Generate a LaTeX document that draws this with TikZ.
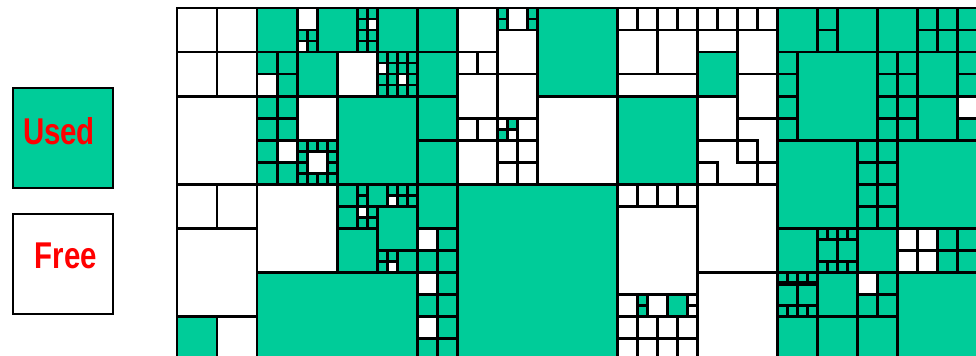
\documentclass[tikz,border=0pt]{standalone}
\usepackage{fontspec}
\newfontfamily\legfont[FakeStretch=0.79]{Liberation Sans}
\usetikzlibrary{positioning}
\definecolor{usedgreen}{RGB}{0,204,153}
\definecolor{labelred}{RGB}{255,0,0}
\tikzset{
  blk/.style={draw=black, line width=2.1pt},
  legbox/.style={rectangle, draw=black, line width=1.6pt, inner sep=0pt,
                 minimum width=2.5cm, minimum height=2.5cm},
  legtext/.style={text=labelred, inner sep=0pt,
                  font=\legfont\bfseries\fontsize{26.5}{30}\selectfont},
}
\begin{document}
\begin{tikzpicture}[x=0.025cm, y=-0.025cm]
  \useasboundingbox (0,0) rectangle (976,356);
  \clip (0,0) rectangle (976,356);
  \node[legbox, fill=usedgreen] (used) at (63,138) {};
  \node[legbox, fill=white, below=0.6cm of used] (free) {};
  \node[legtext] (usedlbl) at (59,131) {Used};
  \node[legtext] (freelbl) at (66,256) {Free};
  \begin{scope}[shift={(177,8)}, x=1cm, y=-1.1cm]
    \foreach \a/\b/\c/\d in {0/7/1/8, 2/0/3/1, 2/1/3/2, 2/2/3/4, 3/0.5/3.5/1, 3.5/0/4.5/1,
        3/1/4/2, 3/3/4/4, 4.5/0/5/1, 4/2/6/4, 5/0/6/1, 5/1/6/2, 6/0/7/5, 6/5/7/8,
        4/4/6/6, 2/6/6/8, 7/4/11/8, 8/0/8.25/0.5, 8.75/0/9/0.5, 8.25/2.5/8.5/2.75,
        8/2.75/8.25/3, 9/0/11/2, 11/2/13/4, 13/1/14/2, 11.5/6.5/11.75/7,
        12.25/6.5/12.75/7, 15/0/20/8}
      \fill[usedgreen] (\a,\b) rectangle (\c,\d);
    \foreach \a/\b/\c/\d in {2/1.5/2.5/2, 2.5/3/3/3.5, 3/0.75/3.25/1, 3.25/3.25/3.75/3.75,
        4.75/0.25/5/0.5, 5/1.25/5.25/1.5, 5.5/1.5/5.75/1.75, 6/5/6.5/5.5, 6/6/6.5/6.5,
        6/7/6.5/7.5, 5.25/4.25/5.5/4.5, 4.5/4.5/4.75/4.75, 5.25/5.75/5.5/6,
        19.5/2/20/2.5, 18/5/19/6, 17/6/17.5/6.5}
      \fill[white] (\a,\b) rectangle (\c,\d);
    \foreach \a/\b/\c/\d in {0/0/1/1, 1/0/2/1, 0/1/1/2, 1/1/2/2, 0/2/2/4, 0/4/1/5, 1/4/2/5,
        0/5/2/7, 0/7/1/8, 1/7/2/8, 2/0/3/1, 3/0/3.5/0.5, 3.5/0/4.5/1, 3/1/4/2, 3/2/4/3,
        3.25/3.25/3.75/3.75, 4/1/5/2, 4/2/6/4, 2/4/4/6, 2/6/6/8, 5/0/6/1, 6/0/7/1,
        6/1/7/2, 6/2/7/3, 6/3/7/4, 6/4/7/5, 7/0/8/1, 7/1/7.5/1.5, 7.5/1/8/1.5,
        7/1.5/8/2.5, 7/2.5/7.5/3, 7.5/2.5/8/3, 7/3/8/4, 8.25/0/8.75/0.5, 8/0.5/9/1.5,
        8/1.5/9/2.5, 8.5/2.5/9/3, 8/3/8.5/3.5, 8.5/3/9/3.5, 8/3.5/8.5/4, 8.5/3.5/9/4,
        9/0/11/2, 9/2/11/4, 7/4/11/8, 11/0.5/12/1.5, 12/0.5/13/1.5, 11/1.5/13/2,
        11/2/13/4, 13/0.5/14/1, 13/1/14/2, 14/0.5/15/1.5, 14/1.5/15/2.5, 13/2/14/3,
        14/2.5/15/3.5, 14/3/14.5/3.5, 14.5/3.5/15/4, 13/3.5/13.5/4, 11/4.5/13/6.5,
        11/6.5/11.5/7, 11.75/6.5/12.25/7, 12.25/6.5/12.75/7, 13/4/15/6, 13/6/15/8,
        4/4/4.5/4.5, 4.75/4/5.25/4.5, 4/4.5/4.5/5, 5/4.5/6/5.5, 4/5/5/6, 5.5/5.5/6/6,
        15/0/16/1, 16.5/0/17.5/1, 17.5/0/18.5/1, 15.5/1/17.5/3, 18.5/1/19.5/2,
        18.5/2/19.5/3, 15/3/17/5, 18/3/20/5, 15/5/16/6, 17/5/18/6, 16/6/17/7,
        18/6/20/8, 15/7/16/8, 16/7/17/8, 17/7/18/8, 16/5.25/16.5/5.75,
        16.5/5.25/17/5.75, 15/6.25/15.5/6.75, 15.5/6.25/16/6.75}
      \draw[blk] (\a,\b) rectangle (\c,\d);
    \foreach \x/\y/\n/\m/\s in {2/1/2/2/0.5, 2/2/2/4/0.5, 3/0.5/2/2/0.25, 3/3/4/1/0.25,
        3/3.75/4/1/0.25, 3/3.25/1/2/0.25, 3.75/3.25/1/2/0.25, 4.5/0/2/4/0.25,
        5/1/4/4/0.25, 6/5/2/6/0.5, 8/0/1/2/0.25, 8.75/0/1/2/0.25, 8/2.5/2/2/0.25,
        11/0/8/1/0.5, 11/4/4/1/0.5, 11/7/4/2/0.5, 11.5/6.5/1/2/0.25, 12.75/6.5/1/2/0.25,
        4.5/4/1/2/0.25, 5.25/4/3/2/0.25, 4.5/4.5/2/2/0.25, 5/5.5/2/2/0.25,
        16/0/1/2/0.5, 18.5/0/3/2/0.5, 15/1/1/4/0.5, 17.5/1/2/4/0.5, 19.5/1/1/4/0.5,
        17/3/2/4/0.5, 18/5/4/2/0.5, 17/6/2/2/0.5, 16/5/4/1/0.25, 16/5.75/4/1/0.25,
        15/6/4/1/0.25, 15/6.75/4/1/0.25}
      \foreach \i in {1,...,\n} \foreach \j in {1,...,\m}
        \draw[blk] ({\x+(\i-1)*\s},{\y+(\j-1)*\s}) rectangle +(\s,\s);
    \draw[blk, line width=3.5pt] (15,6.25) -- (16,6.25);
  \end{scope}
\end{tikzpicture}
\end{document}
